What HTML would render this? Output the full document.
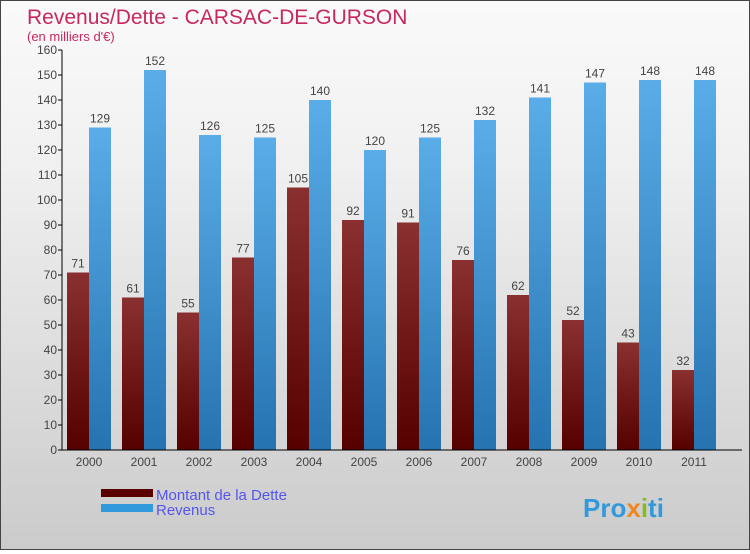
<!DOCTYPE html>
<html><head><meta charset="utf-8"><style>
body{margin:0;width:750px;height:550px;overflow:hidden;font-family:"Liberation Sans",sans-serif}
#c{position:relative;width:748px;height:548px;border:1px solid #444;background:linear-gradient(#fafafa,#f0f0f0 30%,#cbcbcb)}
</style></head><body>
<div id="c">
<svg id="s" width="748" height="548" xmlns="http://www.w3.org/2000/svg">
<defs>
<linearGradient id="gd" x1="0" y1="0" x2="0" y2="1"><stop offset="0" stop-color="#8a3030"/><stop offset="1" stop-color="#560000"/></linearGradient>
<linearGradient id="gr" x1="0" y1="0" x2="0" y2="1"><stop offset="0" stop-color="#5aade8"/><stop offset="1" stop-color="#2573b0"/></linearGradient>
</defs>
<text x="26" y="23" font-size="21" fill="#c8285c">Revenus/Dette - CARSAC-DE-GURSON</text>
<text x="26" y="40" font-size="13" fill="#c8285c">(en milliers d'€)</text>
<g id="plot"></g>
<rect x="100" y="488" width="52" height="8" fill="#5a0000"/>
<rect x="100" y="503" width="52" height="8" fill="#3399dd"/>
<text x="155" y="499" font-size="15" fill="#5555ee">Montant de la Dette</text>
<text x="155" y="514" font-size="15" fill="#5555ee">Revenus</text>
<text x="582" y="516" font-size="26" font-weight="bold" fill="#3399dd">Pro<tspan fill="#ee8822">x</tspan><tspan fill="#88bb22">i</tspan>ti</text>
</svg></div>
<script>
const years=["2000","2001","2002","2003","2004","2005","2006","2007","2008","2009","2010","2011"];
const dette=[71,61,55,77,105,92,91,76,62,52,43,32];
const revenus=[129,152,126,125,140,120,125,132,141,147,148,148];
const ticks=[0,10,20,30,40,50,60,70,80,90,100,110,120,130,140,150,160];
const NS="http://www.w3.org/2000/svg";
const g=document.getElementById('plot');
const x0=61,y0=449,ymax=160,ph=400,gw=55,bw=22;
const y=v=>y0-v/ymax*ph;
function mk(t,a){const e=document.createElementNS(NS,t);for(const k in a)e.setAttribute(k,a[k]);g.appendChild(e);return e;}
ticks.forEach(t=>{
  const l=mk('line',{x1:x0-4,x2:x0,y1:y(t),y2:y(t),stroke:'#000'});
  
  
  const tx=mk('text',{x:x0-5,y:y(t)+4,'font-size':12,fill:'#444','text-anchor':'end'});
  tx.textContent=t;
  
  
});
years.forEach((yr,i)=>{
  const gx=x0+i*gw;
  const d=mk('rect',{x:gx+5,y:y(dette[i]),width:bw,height:y0-y(dette[i]),fill:'url(#gd)'});
  
  
  const r=mk('rect',{x:gx+5+bw,y:y(revenus[i]),width:bw,height:y0-y(revenus[i]),fill:'url(#gr)'});
  
  
  const dl=mk('text',{x:gx+5+bw/2,y:y(dette[i])-5,'font-size':12,fill:'#444','text-anchor':'middle'});
  dl.textContent=dette[i];
  
  
  const rl=mk('text',{x:gx+5+bw*1.5,y:y(revenus[i])-5,'font-size':12,fill:'#444','text-anchor':'middle'});
  rl.textContent=revenus[i];
  
  
  const xl=mk('text',{x:gx+5+bw,y:y0+16,'font-size':12,fill:'#444','text-anchor':'middle'});
  xl.textContent=yr;
  
  
});
const ya=mk('line',{x1:x0,x2:x0,y1:y(160),y2:y0,stroke:'#000'});


const xa=mk('line',{x1:x0,x2:741,y1:y0,y2:y0,stroke:'#000'});


</script>
</body></html>
